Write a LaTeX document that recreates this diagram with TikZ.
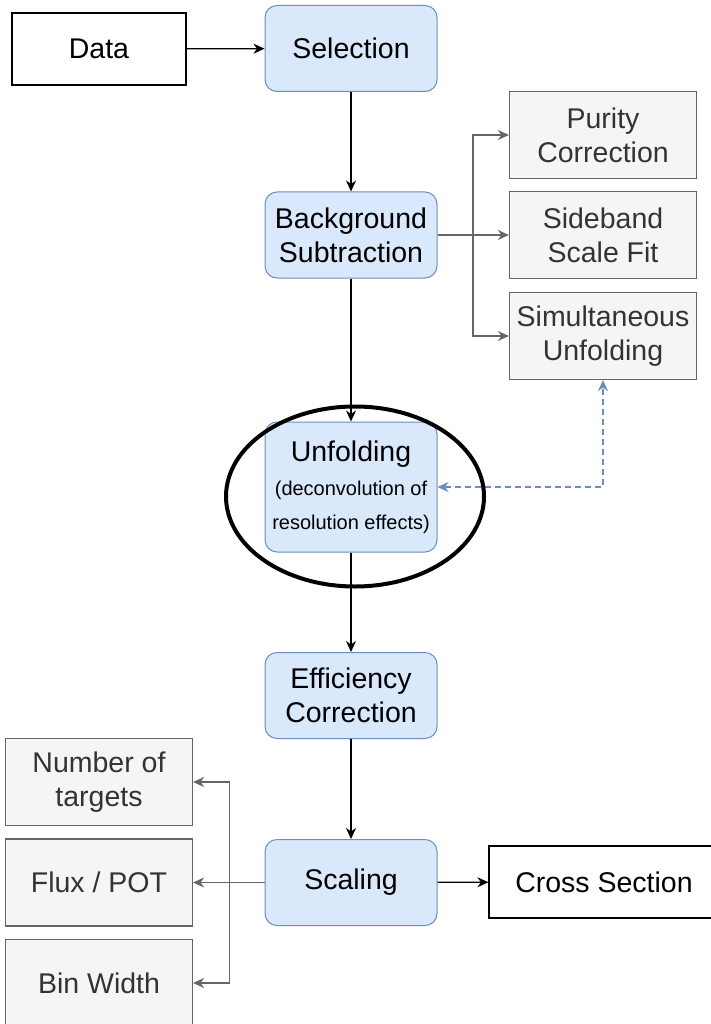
\documentclass[tikz,border=0pt]{standalone}
\usepackage{fontspec}
\setmainfont{Liberation Sans}
\usetikzlibrary{arrows.meta}
\definecolor{stepfill}{HTML}{DAE8FC}
\definecolor{stepline}{HTML}{6C8EBF}
\definecolor{sidefill}{HTML}{F5F5F5}
\definecolor{sideline}{HTML}{666666}
\definecolor{sidetext}{HTML}{333333}
\begin{document}
\begin{tikzpicture}[x=1pt, y=-1pt,
	every node/.style={font=\fontsize{28.5}{34}\selectfont, align=center, inner sep=0pt},
	stepbox/.style={draw=stepline, fill=stepfill, rounded corners=12pt, line width=1pt, minimum width=172pt, minimum height=86pt},
	sidebox/.style={draw=sideline, fill=sidefill, text=sidetext, line width=1.2pt, minimum width=187pt, minimum height=87pt},
	endbox/.style={draw=black, fill=white, line width=1.2pt, minimum height=72pt},
	flow/.style={draw=black, line width=1.2pt, -{Stealth[length=11pt, width=10pt, inset=3.5pt]}},
	sideflow/.style={draw=sideline, line width=1.2pt, -{Stealth[length=11pt, width=10pt, inset=3.5pt]}},
	linkflow/.style={draw=stepline, line width=1.2pt, dash pattern=on 6pt off 4pt, {Stealth[length=11pt, width=10pt, inset=3.5pt]}-{Stealth[length=11pt, width=10pt, inset=3.5pt]}}]
	\clip (0,0) rectangle (711,1024);
	\fill[white] (0,0) rectangle (711,1024);
	% main chain
	\node[endbox, minimum width=174pt] (data) at (99,49) {Data};
	\node[stepbox] (sel) at (351,48.5) {Selection};
	\node[stepbox] (bkg) at (351,235) {Background\\Subtraction};
	\node[stepbox, minimum height=130pt] (unf) at (351,487) {Unfolding\\{\fontsize{20}{24}\selectfont (deconvolution of}\\{\fontsize{20}{24}\selectfont resolution effects)}};
	\node[stepbox] (eff) at (351,695.5) {Efficiency\\Correction};
	\node[stepbox] (scal) at (351,882.5) {Scaling};
	\node[endbox, minimum width=230pt] (xsec) at (604,882) {Cross Section};
	% background methods
	\node[sidebox] (pur) at (603,135) {Purity\\Correction};
	\node[sidebox] (side) at (603,235) {Sideband\\Scale Fit};
	\node[sidebox] (simu) at (603,336) {Simultaneous\\Unfolding};
	% scaling inputs
	\node[sidebox] (ntar) at (99,782) {Number of\\targets};
	\node[sidebox] (flux) at (99,882.5) {Flux / POT};
	\node[sidebox] (binw) at (99,983) {Bin Width};
	\coordinate (bj) at (473,235);
	\coordinate (sj) at (229.5,882.5);
	\draw[flow] (data) -- (sel);
	\draw[flow] (sel) -- (bkg);
	\draw[flow] (bkg) -- (unf);
	\draw[flow] (unf) -- (eff);
	\draw[flow] (eff) -- (scal);
	\draw[flow] (scal) -- (xsec);
	\draw[sideflow] (bkg) -- (side);
	\draw[sideflow] (bj) |- (pur.west);
	\draw[sideflow] (bj) |- (simu.west);
	\draw[sideflow] (scal) -- (flux);
	\draw[sideflow] (sj) |- (ntar.east);
	\draw[sideflow] (sj) |- (binw.east);
	\draw[linkflow] (unf.east) -| (simu.south);
	\draw[line width=4pt] (355,496.5) ellipse [x radius=129, y radius=90];
\end{tikzpicture}
\end{document}
